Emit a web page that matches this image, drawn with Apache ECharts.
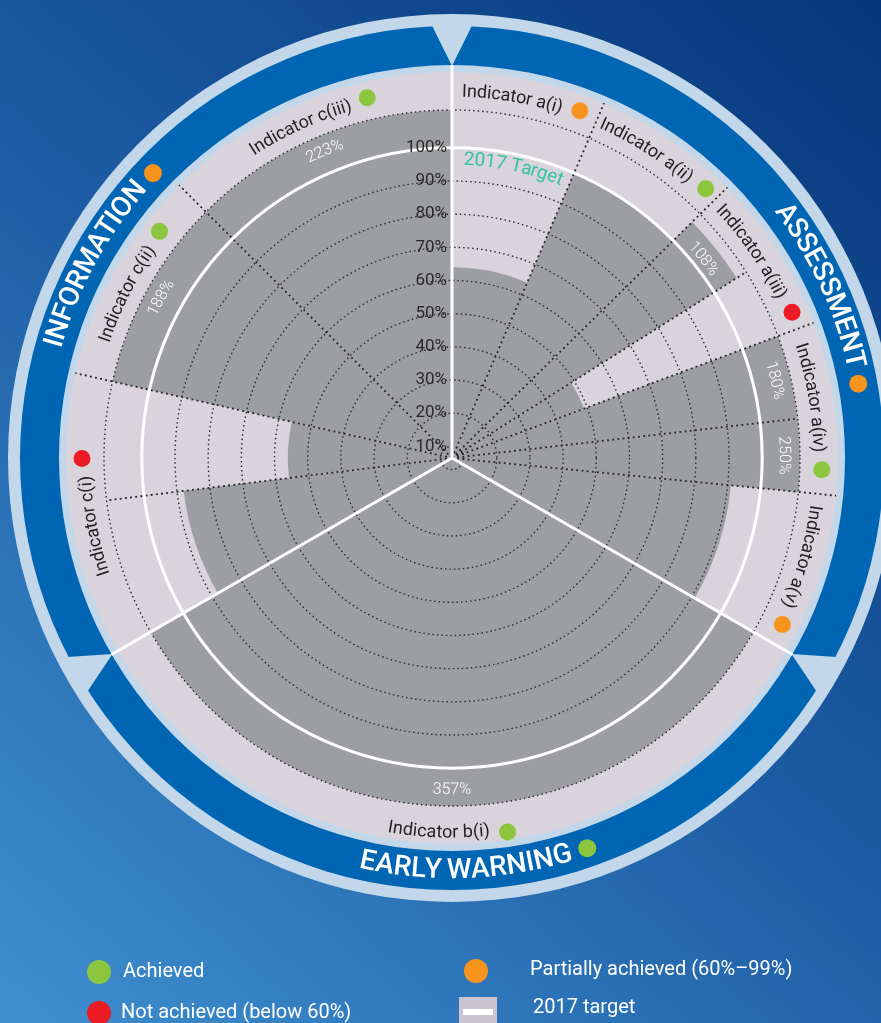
<!DOCTYPE html>
<html>
<head>
<meta charset="utf-8">
<script src="https://cdn.jsdelivr.net/npm/echarts@6/dist/echarts.min.js"></script>
<style>
  html, body { margin: 0; padding: 0; background: #1c5aa2; }
  #chart { width: 881px; height: 1023px; }
</style>
</head>
<body>
<div id="chart"></div>
<script>
// ---- data ---------------------------------------------------------------
// Indicators around the wheel, clockwise from the top
const indicatorNames = ['Indicator a(i)', 'Indicator a(ii)', 'Indicator a(iii)', 'Indicator a(iv)', 'Indicator a(v)',
  'Indicator b(i)', 'Indicator c(i)', 'Indicator c(ii)', 'Indicator c(iii)'];
const indicatorStatus = ['partial', 'achieved', 'not', 'achieved', 'partial', 'achieved', 'not', 'achieved', 'achieved'];

// Result bars, % of the 2017 target (some indicators carry two bars)
const barIndicator = [0, 1, 2, 2, 3, 3, 4, 5, 6, 6, 7, 8];
const barValues = [64, 100, 108, 49, 180, 250, 91, 357, 88, 56, 188, 223];

// Pillars of the wheel
const sectionNames = ['ASSESSMENT', 'EARLY WARNING', 'INFORMATION'];
const sectionStatus = ['partial', 'achieved', 'partial'];

// Radial scale
const gridValues = [10, 20, 30, 40, 50, 60, 70, 80, 90];
const gridLabels = ['10%', '20%', '30%', '40%', '50%', '60%', '70%', '80%', '90%', '100%'];
const labelValues = [10, 20, 30, 40, 50, 60, 70, 80, 90, 100];
const TARGET = 100;
const targetLabel = '2017 Target';

// Legend
const legendLabels = ['Achieved', 'Not achieved (below 60%)', 'Partially achieved (60%–99%)', '2017 target'];

// ---- layout -------------------------------------------------------------
const CENTER = [452, 458];
const RIM = 348;                   // px radius of the outer dotted circle
const R_MIN = 6.5, R_MAX = 111.4;  // radius axis extent
// angular edges of the bars, degrees clockwise from the top
const barEdges = [0, 23.2, 45.5, 57.7, 69.5, 83.5, 95.6, 120, 240, 263, 282.7, 315, 360];
const sectionEdges = [0, 120, 240];
const sectionTitleAngle = [65, 178, 298.5];

const FONT = 'Roboto';
const DEG = Math.PI / 180;
const statusColor = { achieved: '#8cc63f', partial: '#f7941d', not: '#ec1c24' };
const C = {
  ringLight: '#c2d7ea', band: '#0066b3', disc: '#d9d4dc', bar: '#9d9ea2',
  dots: '#2a2a2a', ink: '#231f20', target: '#37c29f'
};

// ---- helpers ------------------------------------------------------------
const measureCtx = document.createElement('canvas').getContext('2d');
function textWidth(str, size, weight) {
  measureCtx.font = weight + ' ' + size + 'px ' + FONT;
  return measureCtx.measureText(str).width;
}
function pt(cx, cy, deg, r) {
  return [cx + r * Math.sin(deg * DEG), cy - r * Math.cos(deg * DEG)];
}
// characters of a string set along a circle; 'cw' reads clockwise with tops outward,
// 'ccw' reads counter-clockwise with tops toward the centre
function arcText(cx, cy, r, centerDeg, str, o) {
  const size = o.size, weight = o.weight || 400, dir = o.dir || 'cw';
  const total = textWidth(str, size, weight);
  const els = [];
  for (let i = 0; i < str.length; i++) {
    const ch = str[i];
    if (ch === ' ') continue;
    const pre = textWidth(str.slice(0, i), size, weight);
    const w = textWidth(str.slice(0, i + 1), size, weight) - pre;
    const off = (pre + w / 2 - total / 2) / r / DEG;
    const deg = dir === 'cw' ? centerDeg + off : centerDeg - off;
    const t = deg * DEG;
    const p = pt(cx, cy, deg, r);
    els.push({
      type: 'text', x: p[0], y: p[1], rotation: dir === 'cw' ? -t : Math.PI - t, silent: true,
      style: { text: ch, fill: o.fill, fontSize: size, fontWeight: weight, fontFamily: FONT,
               align: 'center', verticalAlign: 'middle' }
    });
  }
  return { els, total };
}
function dirAt(deg) { return (deg > 135 && deg < 225) ? 'ccw' : 'cw'; }
function screenAngle(api, cx, cy, a) {
  const p = api.coord([R_MAX, a]);
  return Math.atan2(p[1] - cy, p[0] - cx);
}
function radiusOf(api, cx, cy, v) {
  const p = api.coord([v, 0]);
  return Math.hypot(p[0] - cx, p[1] - cy);
}

// ---- frame: rings, band, markers ---------------------------------------
function renderFrame(params, api) {
  const cx = params.coordSys.cx, cy = params.coordSys.cy;
  const rim = radiusOf(api, cx, cy, R_MAX);
  const children = [
    { type: 'circle', shape: { cx, cy, r: rim + 96 }, style: { fill: C.ringLight } },
    { type: 'circle', shape: { cx, cy, r: rim + 84 }, style: { fill: C.band } },
    { type: 'circle', shape: { cx, cy, r: rim + 45 }, style: { fill: C.ringLight } },
    { type: 'circle', shape: { cx, cy, r: rim + 38 }, style: { fill: C.disc } }
  ];
  sectionEdges.forEach(a => {
    const half = 20 / (rim + 85) / DEG;
    children.push({
      type: 'polygon',
      shape: { points: [pt(cx, cy, a - half, rim + 85), pt(cx, cy, a + half, rim + 85), pt(cx, cy, a, rim + 44)] },
      style: { fill: C.ringLight }
    });
  });
  return { type: 'group', children };
}

// ---- bars ---------------------------------------------------------------
function renderBar(params, api) {
  const cx = params.coordSys.cx, cy = params.coordSys.cy;
  const v = Math.min(api.value(0), R_MAX);     // off-scale results reach the rim
  const r = radiusOf(api, cx, cy, v);
  const a0 = screenAngle(api, cx, cy, api.value(1));
  let a1 = screenAngle(api, cx, cy, api.value(2));
  if (a1 <= a0) a1 += 2 * Math.PI;
  return {
    type: 'sector',
    shape: { cx, cy, r0: 0, r, startAngle: a0, endAngle: a1, clockwise: true },
    style: { fill: C.bar }
  };
}

// ---- grid, separators and texts -----------------------------------------
function renderOverlay(params, api) {
  const cx = params.coordSys.cx, cy = params.coordSys.cy;
  const rim = radiusOf(api, cx, cy, R_MAX);
  const ch = [];
  // dotted rings
  gridValues.concat([R_MAX]).forEach(v => {
    ch.push({ type: 'circle', shape: { cx, cy, r: radiusOf(api, cx, cy, v) },
      style: { fill: 'none', stroke: C.dots, lineWidth: 1.4, lineDash: [1.5, 3] } });
  });
  // dotted radial separators: between indicators they run to the disc edge,
  // between two bars of one indicator they stop at the rim
  barEdges.forEach((a, i) => {
    if (a % 120 === 0) return;
    const inner = barIndicator[i - 1] === barIndicator[i];
    const p = pt(cx, cy, a, inner ? rim : rim + 38);
    ch.push({ type: 'line', shape: { x1: cx, y1: cy, x2: p[0], y2: p[1] },
      style: { stroke: C.dots, lineWidth: 1.8, lineDash: [2, 3.2] } });
  });
  // target circle
  ch.push({ type: 'circle', shape: { cx, cy, r: radiusOf(api, cx, cy, TARGET) },
    style: { fill: 'none', stroke: '#ffffff', lineWidth: 3 } });
  // pillar separators
  sectionEdges.forEach(a => {
    const p = pt(cx, cy, a, rim + 45);
    ch.push({ type: 'line', shape: { x1: cx, y1: cy, x2: p[0], y2: p[1] },
      style: { stroke: '#ffffff', lineWidth: 3 } });
  });
  // radial tick labels
  labelValues.forEach((v, i) => {
    ch.push({ type: 'text', x: cx - 5, y: cy - radiusOf(api, cx, cy, v), silent: true,
      style: { text: gridLabels[i], fill: '#2a2a2a', fontSize: 17, fontFamily: FONT,
               align: 'right', verticalAlign: 'middle' } });
  });
  // target caption
  ch.push(...arcText(cx, cy, radiusOf(api, cx, cy, TARGET) - 12, 12, targetLabel,
    { size: 19, fill: C.target, dir: 'cw' }).els);

  // value labels on bars that pass the target
  barValues.forEach((v, i) => {
    if (v <= TARGET) return;
    const mid = (barEdges[i] + barEdges[i + 1]) / 2;
    const rBar = radiusOf(api, cx, cy, Math.min(v, R_MAX));
    ch.push(...arcText(cx, cy, rBar - 16, mid, v + '%',
      { size: 16, weight: 300, fill: '#ffffff', dir: dirAt(mid) }).els);
  });

  // indicator names with status dots
  const DOT_GAP = 18, DOT_R = 8.5;
  indicatorNames.forEach((name, k) => {
    const idx = barIndicator.map((b, i) => b === k ? i : -1).filter(i => i >= 0);
    const a0 = barEdges[idx[0]], a1 = barEdges[idx[idx.length - 1] + 1];
    const mid = (a0 + a1) / 2;
    const dir = dirAt(mid);
    const rText = dir === 'cw' ? rim + 18 : rim + 27;
    const rDot = dir === 'cw' ? rim + 22 : rim + 30;
    const tw = textWidth(name, 18, 400);
    const len = tw + DOT_GAP + DOT_R;
    const sgn = dir === 'cw' ? 1 : -1;
    const textDeg = mid + sgn * (tw / 2 - len / 2) / rText / DEG;
    const dotDeg = mid + sgn * (tw + DOT_GAP - len / 2) / rDot / DEG;
    ch.push(...arcText(cx, cy, rText, textDeg, name, { size: 18, fill: C.ink, dir }).els);
    const d = pt(cx, cy, dotDeg, rDot);
    ch.push({ type: 'circle', shape: { cx: d[0], cy: d[1], r: DOT_R },
      style: { fill: statusColor[indicatorStatus[k]] } });
  });

  // pillar titles with status dots
  sectionNames.forEach((name, k) => {
    const c = sectionTitleAngle[k];
    const dir = dirAt(c);
    const rT = rim + 65;
    const t = arcText(cx, cy, rT, c, name, { size: 28, weight: 500, fill: '#ffffff', dir });
    ch.push(...t.els);
    const sgn = dir === 'cw' ? 1 : -1;
    const dotDeg = c + sgn * (t.total / 2 + 16) / rT / DEG;
    const d = pt(cx, cy, dotDeg, rT);
    ch.push({ type: 'circle', shape: { cx: d[0], cy: d[1], r: 9 },
      style: { fill: statusColor[sectionStatus[k]] } });
  });
  return { type: 'group', children: ch };
}

// ---- chart ----------------------------------------------------------------
const chart = echarts.init(document.getElementById('chart'));
const barData = barValues.map((v, i) => [v, barEdges[i], barEdges[i + 1]]);

const legendText = (x, y, text) => ({
  type: 'text', x, y,
  style: { text, fill: '#ffffff', fontSize: 20, fontFamily: FONT, align: 'left', verticalAlign: 'middle' }
});

chart.setOption({
  animation: false,
  backgroundColor: {
    type: 'linear', x: 1, y: 0, x2: 0, y2: 1,
    colorStops: [{ offset: 0, color: '#06377a' }, { offset: 0.5, color: '#1d5ca4' }, { offset: 1, color: '#3f8fcf' }]
  },
  polar: { center: CENTER, radius: RIM },
  angleAxis: { type: 'value', min: 0, max: 360, startAngle: 90, clockwise: true, show: false },
  radiusAxis: { type: 'value', min: R_MIN, max: R_MAX, show: false },
  series: [
    { type: 'custom', coordinateSystem: 'polar', silent: true, clip: false, z: 1,
      data: [[R_MIN, 0]], renderItem: renderFrame },
    { type: 'custom', coordinateSystem: 'polar', silent: true, clip: false, z: 2,
      data: barData, renderItem: renderBar },
    { type: 'custom', coordinateSystem: 'polar', silent: true, clip: false, z: 3,
      data: [[R_MIN, 0]], renderItem: renderOverlay }
  ],
  graphic: [
    { type: 'circle', shape: { cx: 99, cy: 972, r: 12 }, style: { fill: statusColor.achieved } },
    legendText(123, 972, legendLabels[0]),
    { type: 'circle', shape: { cx: 99, cy: 1013, r: 12 }, style: { fill: statusColor.not } },
    legendText(121, 1013, legendLabels[1]),
    { type: 'circle', shape: { cx: 476, cy: 971, r: 12 }, style: { fill: statusColor.partial } },
    legendText(530, 970, legendLabels[2]),
    { type: 'rect', shape: { x: 459, y: 997, width: 38, height: 30 }, style: { fill: '#cbc5d0' } },
    { type: 'rect', shape: { x: 463, y: 1009, width: 30, height: 6 }, style: { fill: '#ffffff' } },
    legendText(533, 1008, legendLabels[3])
  ]
});
</script>
</body>
</html>
